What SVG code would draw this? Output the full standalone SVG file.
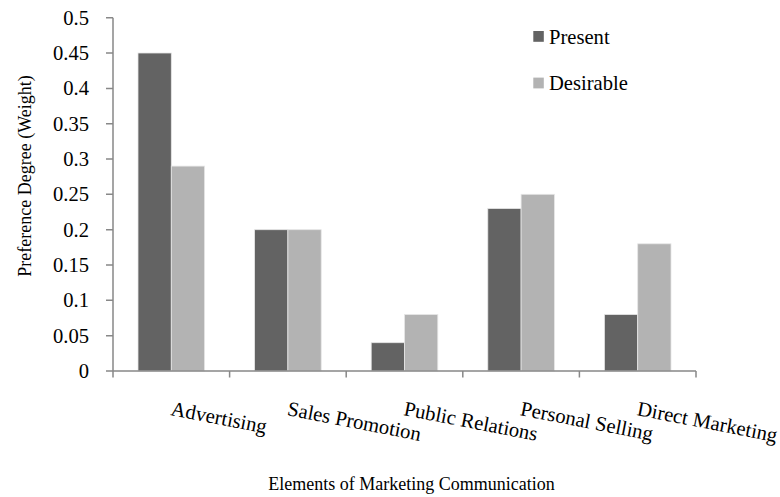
<svg xmlns="http://www.w3.org/2000/svg" width="780" height="497" viewBox="0 0 780 497">
<style>
text{font-family:"Liberation Serif","Times New Roman",serif;fill:#000;font-size:20.6px}
.tick text{text-anchor:end}
text.title{font-size:18px;text-anchor:middle}
.p{fill:#636363;stroke:#e6e6e6;stroke-width:0.8}
.d{fill:#b3b3b3;stroke:#e6e6e6;stroke-width:0.8}
.ax{stroke:#888;stroke-width:1.5;fill:none}
</style>
<rect width="780" height="497" fill="#fff"/>
<g id="y-axis">
<path class="ax" d="M113,17.7V371M106,17.7H113M106,53H113M106,88.4H113M106,123.7H113M106,159H113M106,194.3H113M106,229.7H113M106,265H113M106,300.3H113M106,335.7H113M106,371H113"/>
<g class="tick">
<text x="89" y="24.7">0.5</text>
<text x="89" y="60">0.45</text>
<text x="89" y="95.4">0.4</text>
<text x="89" y="130.7">0.35</text>
<text x="89" y="166">0.3</text>
<text x="89" y="201.3">0.25</text>
<text x="89" y="236.7">0.2</text>
<text x="89" y="272">0.15</text>
<text x="89" y="307.3">0.1</text>
<text x="89" y="342.7">0.05</text>
<text x="89" y="378">0</text>
</g>
<text class="title" transform="translate(31,176) rotate(-90)">Preference Degree (Weight)</text>
</g>
<g id="bars">
<g id="advertising">
<rect class="p" x="138" y="53" width="33.3" height="318"/>
<rect class="d" x="171.3" y="166.1" width="33.3" height="204.9"/>
</g>
<g id="sales-promotion">
<rect class="p" x="254.6" y="229.7" width="33.3" height="141.3"/>
<rect class="d" x="287.9" y="229.7" width="33.3" height="141.3"/>
</g>
<g id="public-relations">
<rect class="p" x="371.2" y="342.7" width="33.3" height="28.3"/>
<rect class="d" x="404.5" y="314.5" width="33.3" height="56.5"/>
</g>
<g id="personal-selling">
<rect class="p" x="487.8" y="208.5" width="33.3" height="162.5"/>
<rect class="d" x="521.1" y="194.3" width="33.3" height="176.7"/>
</g>
<g id="direct-marketing">
<rect class="p" x="604.4" y="314.5" width="33.3" height="56.5"/>
<rect class="d" x="637.7" y="243.8" width="33.3" height="127.2"/>
</g>
</g>
<g id="x-axis">
<path class="ax" d="M113,371H696M113,371V377.5M229.6,371V377.5M346.2,371V377.5M462.8,371V377.5M579.4,371V377.5M696,371V377.5"/>
<g class="cat">
<text transform="translate(170,415) rotate(11)">Advertising</text>
<text transform="translate(286.5,415) rotate(11)">Sales Promotion</text>
<text transform="translate(403,415) rotate(11)">Public Relations</text>
<text transform="translate(519.6,415) rotate(11)">Personal Selling</text>
<text transform="translate(636.2,415) rotate(11)">Direct Marketing</text>
</g>
<text class="title" x="411.5" y="489.5">Elements of Marketing Communication</text>
</g>
<g id="legend">
<rect x="533.3" y="31" width="10.5" height="10.8" fill="#636363"/>
<text x="549" y="44.3">Present</text>
<rect x="533.3" y="77.6" width="10.5" height="10.8" fill="#b3b3b3"/>
<text x="549" y="90">Desirable</text>
</g>
</svg>
